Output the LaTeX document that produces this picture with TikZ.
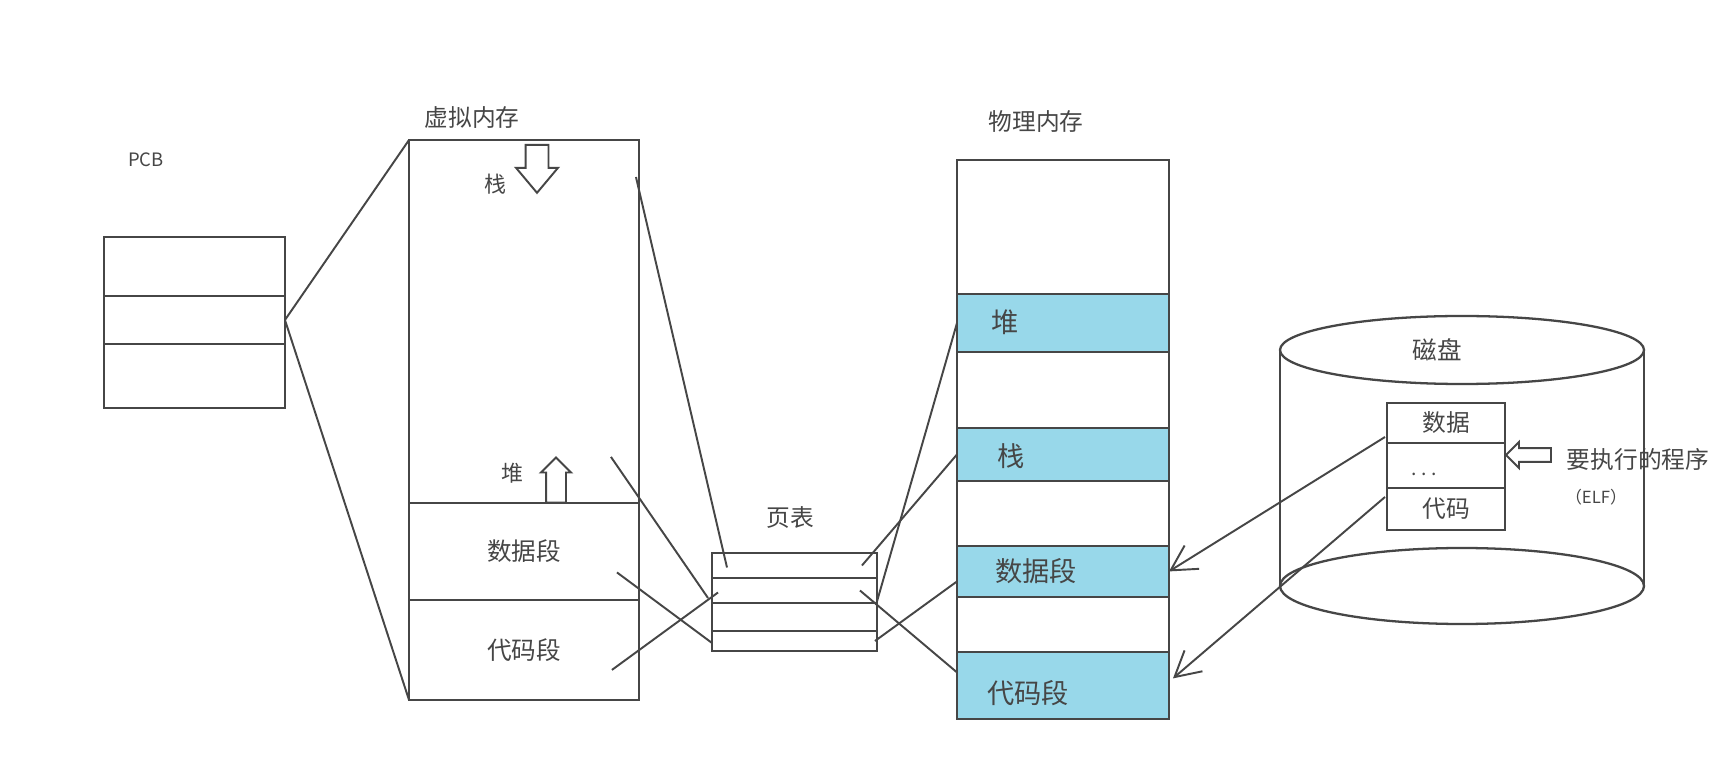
\documentclass[tikz,border=0pt]{standalone}
\usepackage{fontspec}
\usepackage{tikz}
\usetikzlibrary{positioning, shapes.arrows, arrows.meta, calc}
\newfontfamily\cjk{Noto Sans CJK SC}
\definecolor{SegBlue}{RGB}{152, 216, 234}
\definecolor{InkGray}{RGB}{70, 70, 70}

\begin{document}
\begin{tikzpicture}[x=0.02cm, y=-0.02cm,
    cell/.style={draw=InkGray, line width=1.3pt, inner sep=0pt, outer sep=0pt, anchor=north west},
    seg/.style={cell, fill=SegBlue},
    lbl/.style={font=\cjk\fontsize{#1}{#1}\selectfont, text=InkGray, inner sep=0pt},
    lbl/.default=13.5pt,
    link/.style={draw=InkGray, line width=1.1pt},
    load/.style={link, -{Straight Barb[length=0.5cm, width=0.55cm]}},
    hollow/.style={single arrow, draw=InkGray, line width=1.1pt, fill=white, outer sep=0pt}]
    \path[use as bounding box, fill=white] (0,0) rectangle (1734,766);

    % PCB
    \node[lbl=10.5pt] (pcbLbl) at (146,160) {PCB};
    \node[cell, minimum width=3.62cm, minimum height=1.18cm] (pcbA) at (104,237) {};
    \node[cell, minimum width=3.62cm, minimum height=0.96cm] (pcbB) at (pcbA.south west) {};
    \node[cell, minimum width=3.62cm, minimum height=1.28cm] (pcbC) at (pcbB.south west) {};

    % Virtual memory
    \node[lbl] (vmLbl) at (472,118) {虚拟内存};
    \node[cell, minimum width=4.6cm, minimum height=7.26cm] (vmTop) at (409,140) {};
    \node[cell, lbl=14pt, minimum width=4.6cm, minimum height=1.94cm] (vmData) at (vmTop.south west) {数据段};
    \node[cell, lbl=14pt, minimum width=4.6cm, minimum height=2cm] (vmCode) at (vmData.south west) {代码段};
    \node[lbl=12.5pt] (vmStack) at (495,184) {栈};
    \node[lbl=12.5pt] (vmHeap) at (512,473) {堆};
    \node[hollow, shape border rotate=270, inner sep=0.21cm, minimum height=0.96cm,
      single arrow head extend=0.19cm, single arrow tip angle=80] (stackGrow) at (537,162) {};
    \node[hollow, shape border rotate=90, inner sep=0.18cm, minimum height=0.9cm,
      single arrow head extend=0.1cm, single arrow tip angle=90] (heapGrow) at (556,485) {};

    % Page table
    \node[lbl] (ptLbl) at (790,518) {页表};
    \node[cell, minimum width=3.3cm, minimum height=0.5cm] (ptA) at (712,553) {};
    \node[cell, minimum width=3.3cm, minimum height=0.5cm] (ptB) at (ptA.south west) {};
    \node[cell, minimum width=3.3cm, minimum height=0.56cm] (ptC) at (ptB.south west) {};
    \node[cell, minimum width=3.3cm, minimum height=0.4cm] (ptD) at (ptC.south west) {};

    % Physical memory
    \node[lbl] (pmLbl) at (1036,122) {物理内存};
    \node[cell, minimum width=4.24cm, minimum height=2.68cm] (pmTop) at (957,160) {};
    \node[seg, minimum width=4.24cm, minimum height=1.16cm] (pmHeap) at (pmTop.south west) {};
    \node[cell, minimum width=4.24cm, minimum height=1.52cm] (pmGapA) at (pmHeap.south west) {};
    \node[seg, minimum width=4.24cm, minimum height=1.06cm] (pmStack) at (pmGapA.south west) {};
    \node[cell, minimum width=4.24cm, minimum height=1.3cm] (pmGapB) at (pmStack.south west) {};
    \node[seg, minimum width=4.24cm, minimum height=1.02cm] (pmData) at (pmGapB.south west) {};
    \node[cell, minimum width=4.24cm, minimum height=1.1cm] (pmGapC) at (pmData.south west) {};
    \node[seg, minimum width=4.24cm, minimum height=1.34cm] (pmCode) at (pmGapC.south west) {};
    \node[lbl=15.5pt] (pmHeapLbl) at (1005,322) {堆};
    \node[lbl=15.5pt] (pmStackLbl) at (1011,456) {栈};
    \node[lbl=15.5pt] (pmDataLbl) at (1036,571) {数据段};
    \node[lbl=15.5pt] (pmCodeLbl) at (1028,693) {代码段};

    % Disk
    \draw[link, line width=1.3pt] (1462,350) ellipse [x radius=182, y radius=34];
    \draw[link, line width=1.3pt] (1280,350) -- (1280,586);
    \draw[link, line width=1.3pt] (1644,350) -- (1644,586);
    \draw[link, line width=1.3pt] (1462,586) ellipse [x radius=182, y radius=38];
    \node[lbl=14pt] (diskLbl) at (1437,350) {磁盘};
    \node[cell, fill=white, lbl, minimum width=2.36cm, minimum height=0.8cm] (elfA) at (1387,403) {数据};
    \node[cell, minimum width=2.36cm, minimum height=0.9cm] (elfB) at (elfA.south west) {};
    \node[cell, fill=white, lbl, minimum width=2.36cm, minimum height=0.84cm] (elfC) at (elfB.south west) {代码};
    \node[lbl=11pt] (elfDots) at (1424,474) {.\ .\ .};
    \node[hollow, shape border rotate=180, inner sep=0.12cm, minimum height=0.9cm,
      single arrow head extend=0.12cm, single arrow tip angle=90] (elfPoint) at (1532,455) {};
    \node[lbl] (runLbl) at (1638,459) {要执行的程序};
    \node[lbl=9.5pt] (elfLbl) at (1596,497) {（ELF）};

    % PCB to virtual memory
    \draw[link] (pcbB.east) -- (vmTop.north west);
    \draw[link] (pcbB.east) -- (vmCode.south west);

    % virtual memory to page table
    \draw[link] ($(vmTop.north east)+(-3,37)$) -- ($(ptA.west)+(15,2)$);
    \draw[link] ($(vmTop.south east)+(-28,-46)$) -- ($(ptB.south west)+(-4,-5)$);
    \draw[link] ($(vmData.east)+(-22,21)$) -- ($(ptD.west)+(0,2)$);
    \draw[link] ($(vmCode.east)+(-27,20)$) -- ($(ptB.west)+(6,2)$);

    % page table to physical memory
    \draw[link] ($(ptC.north east)+(-1,2)$) -- (pmHeap.west);
    \draw[link] ($(ptA.east)+(-15,0)$) -- (pmStack.west);
    \draw[link] ($(ptD.east)+(-2,0)$) -- ($(pmData.west)+(0,10)$);
    \draw[link] ($(ptB.east)+(-17,0)$) -- ($(pmCode.west)+(0,-13)$);

    % disk to physical memory
    \draw[load] ($(elfA.south west)+(-2,-6)$) -- (pmData.east);
    \draw[load] ($(elfC.north west)+(-2,9)$) -- ($(pmCode.east)+(4,-7)$);
\end{tikzpicture}
\end{document}
